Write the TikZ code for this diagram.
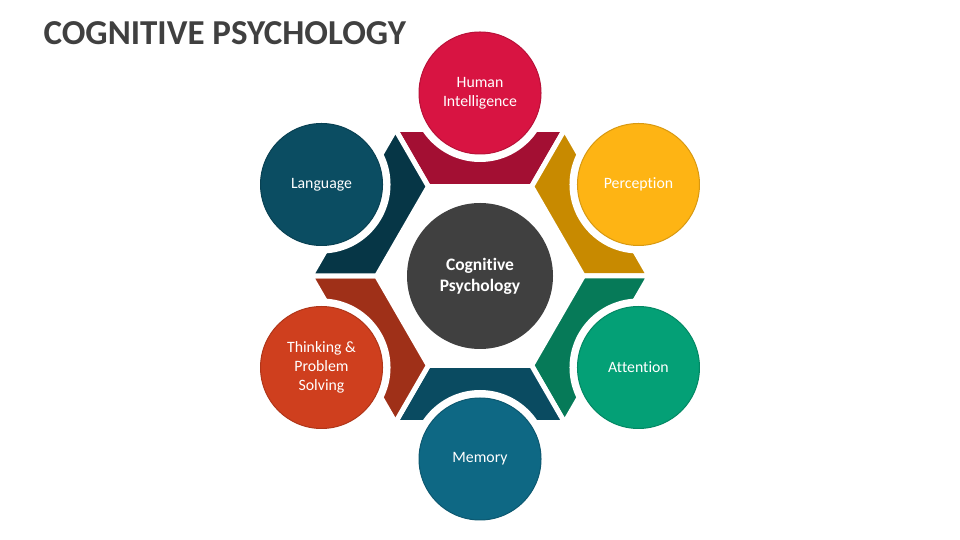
\documentclass[tikz,border=0pt]{standalone}
\usepackage{fontspec}
\setmainfont{Carlito}[Ligatures=NoCommon]
\usetikzlibrary{positioning}
\definecolor{ink}{HTML}{404040}
\definecolor{humanL}{HTML}{D81442}
\definecolor{humanD}{HTML}{A30F33}
\definecolor{percL}{HTML}{FEB414}
\definecolor{percD}{HTML}{C88A00}
\definecolor{attnL}{HTML}{04A076}
\definecolor{attnD}{HTML}{067A58}
\definecolor{memL}{HTML}{0E6884}
\definecolor{memD}{HTML}{0A4B61}
\definecolor{thinkL}{HTML}{CF3F1E}
\definecolor{thinkD}{HTML}{9F3018}
\definecolor{langL}{HTML}{0B4D62}
\definecolor{langD}{HTML}{063646}

\begin{document}
\begin{tikzpicture}[x=1pt,y=1pt,
  bubble/.style={circle,minimum size=122pt,inner sep=0pt,align=center,text=white,
    line width=1pt,font=\fontsize{15.8}{19}\selectfont}]
  \useasboundingbox (0,0) rectangle (960,540);
  \node[anchor=base west,text=ink,font=\fontsize{35}{40}\selectfont\bfseries] (title) at (40,495) {COGNITIVE PSYCHOLOGY};
  \begin{scope}[shift={(480,264)}]
    % hexagon ring pieces with a round cut for each bubble
    \foreach \a/\col in {90/humanD,30/percD,-30/attnD,-90/memD,-150/thinkD,150/langD}{
      \filldraw[fill=\col,draw=white,line width=5pt] (\a-30:169.2) -- (\a+30:169.2) -- (\a+30:103.3) -- (\a-30:103.3) -- cycle;
      \fill[white] (\a:183) circle[radius=69];
    }
    \node[bubble,minimum size=146pt,fill=ink,font=\fontsize{17.5}{21}\selectfont\bfseries] (core) at (0,0) {Cognitive\\Psychology};
    \node[bubble,fill=humanL,draw=humanL!85!black] (human) at (90:183) {Human\\Intelligence};
    \node[bubble,fill=percL,draw=percL!85!black] (perc) at (30:183) {Perception};
    \node[bubble,fill=attnL,draw=attnL!85!black] (attn) at (-30:183) {Attention};
    \node[bubble,fill=memL,draw=memL!85!black] (mem) at (-90:183) {Memory};
    \node[bubble,fill=thinkL,draw=thinkL!85!black] (think) at (-150:183) {Thinking \&\\Problem\\Solving};
    \node[bubble,fill=langL,draw=langL!85!black] (lang) at (150:183) {Language};
  \end{scope}
\end{tikzpicture}
\end{document}
